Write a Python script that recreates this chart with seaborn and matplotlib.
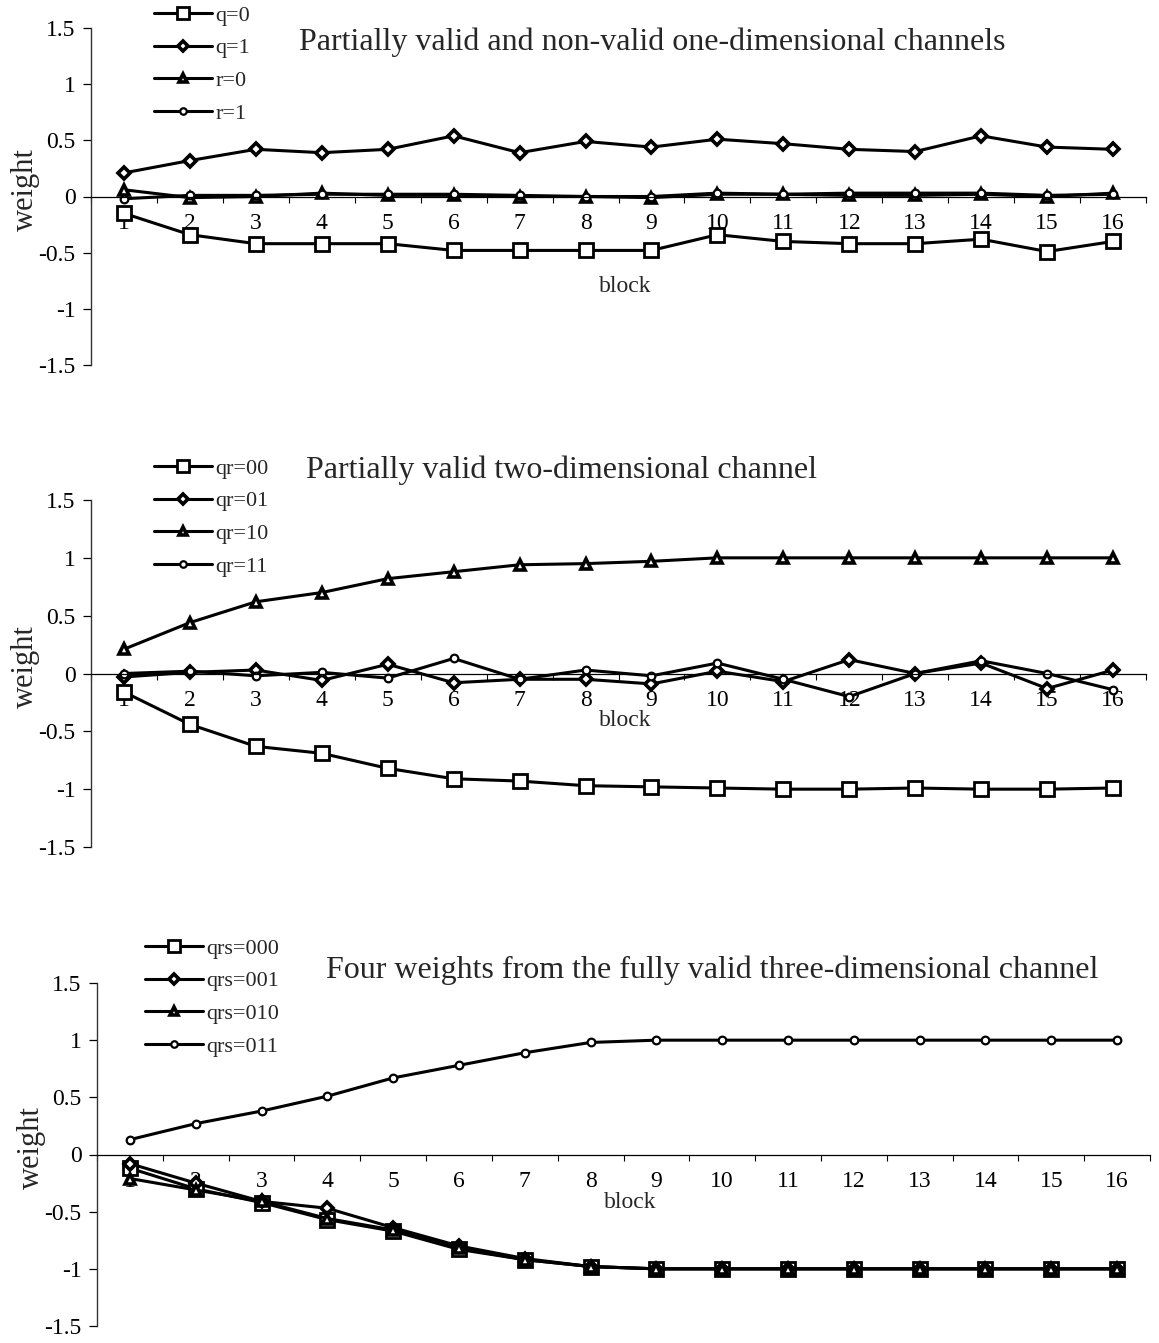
import matplotlib
matplotlib.use("Agg")
import matplotlib.pyplot as plt
import numpy as np
import pandas as pd
import seaborn as sns

# ---- data -------------------------------------------------------------
blocks = list(range(1, 17))
block_labels = [str(b) for b in blocks]

y_ticks = [-1.5, -1.0, -0.5, 0.0, 0.5, 1.0, 1.5]
y_tick_labels = ["-1.5", "-1", "-0.5", "0", "0.5", "1", "1.5"]

# one-dimensional channels
q0 = [-0.15, -0.34, -0.42, -0.42, -0.42, -0.48, -0.48, -0.48,
      -0.48, -0.34, -0.40, -0.42, -0.42, -0.38, -0.49, -0.40]
q1 = [0.21, 0.32, 0.42, 0.39, 0.42, 0.54, 0.39, 0.49,
      0.44, 0.51, 0.47, 0.42, 0.40, 0.54, 0.44, 0.42]
r0 = [0.06, -0.01, 0.00, 0.03, 0.01, 0.01, 0.00, 0.00,
      -0.01, 0.02, 0.02, 0.01, 0.01, 0.02, 0.00, 0.03]
r1 = [-0.02, 0.01, 0.01, 0.02, 0.02, 0.02, 0.01, 0.00,
      0.00, 0.03, 0.02, 0.03, 0.03, 0.03, 0.01, 0.02]

# two-dimensional channel
qr00 = [-0.16, -0.44, -0.63, -0.69, -0.82, -0.91, -0.93, -0.97,
        -0.98, -0.99, -1.00, -1.00, -0.99, -1.00, -1.00, -0.99]
qr01 = [-0.03, 0.01, 0.03, -0.06, 0.08, -0.08, -0.05, -0.05,
        -0.09, 0.02, -0.07, 0.12, 0.00, 0.09, -0.13, 0.03]
qr10 = [0.21, 0.44, 0.62, 0.70, 0.82, 0.88, 0.94, 0.95,
        0.97, 1.00, 1.00, 1.00, 1.00, 1.00, 1.00, 1.00]
qr11 = [0.00, 0.02, -0.02, 0.01, -0.04, 0.13, -0.05, 0.03,
        -0.02, 0.09, -0.05, -0.20, 0.00, 0.11, 0.00, -0.14]

# three-dimensional channel
qrs000 = [-0.12, -0.30, -0.42, -0.57, -0.67, -0.83, -0.92, -0.98,
          -1.00, -1.00, -1.00, -1.00, -1.00, -1.00, -1.00, -1.00]
qrs001 = [-0.08, -0.25, -0.41, -0.47, -0.64, -0.80, -0.91, -0.98,
          -1.00, -1.00, -1.00, -1.00, -1.00, -1.00, -1.00, -1.00]
qrs010 = [-0.21, -0.31, -0.41, -0.56, -0.66, -0.82, -0.92, -0.98,
          -1.00, -1.00, -1.00, -1.00, -1.00, -1.00, -1.00, -1.00]
qrs011 = [0.13, 0.27, 0.38, 0.51, 0.67, 0.78, 0.89, 0.98,
          1.00, 1.00, 1.00, 1.00, 1.00, 1.00, 1.00, 1.00]

panels = [
    dict(title="Partially valid and non-valid one-dimensional channels",
         labels=["q=0", "q=1", "r=0", "r=1"], series=[q0, q1, r0, r1]),
    dict(title="Partially valid two-dimensional channel",
         labels=["qr=00", "qr=01", "qr=10", "qr=11"], series=[qr00, qr01, qr10, qr11]),
    dict(title="Four weights from the fully valid three-dimensional channel",
         labels=["qrs=000", "qrs=001", "qrs=010", "qrs=011"],
         series=[qrs000, qrs001, qrs010, qrs011]),
]

# ---- styling ----------------------------------------------------------
sns.set_theme(style="white")
plt.rcParams["font.family"] = ["Liberation Serif", "DejaVu Serif"]

marker_styles = [
    dict(marker="s", markersize=10.5, markerfacecolor="white", markeredgewidth=2.0),
    dict(marker="D", markersize=6, markerfacecolor="white", markeredgewidth=2.6),
    dict(marker="^", markersize=7, markerfacecolor="white", markeredgewidth=2.6),
    dict(marker="o", markersize=5.5, markerfacecolor="white", markeredgewidth=1.6),
]

fig = plt.figure(figsize=(11.59, 13.43), dpi=100)
W, H = 1159.0, 1343.0

# axes rectangles in pixels: (left, top, right, bottom)
axes_px = [(91, 28, 1146, 365), (91, 500, 1146, 847), (97, 983, 1150, 1326)]
title_px = [(652, 42), (561, 470), (712, 970)]
legend_px = [(154, 5), (154, 458), (145, 938)]
block_label_y = [-0.80, -0.41, -0.42]

for i, panel in enumerate(panels):
    l, t, r, b = axes_px[i]
    ax = fig.add_axes([l / W, 1 - b / H, (r - l) / W, (b - t) / H])

    frame = pd.DataFrame({"block": blocks})
    for lab, vals, st in zip(panel["labels"], panel["series"], marker_styles):
        frame[lab] = vals
        sns.lineplot(data=frame, x="block", y=lab, ax=ax, color="black",
                     linewidth=2.2, markeredgecolor="black", label=lab,
                     clip_on=False, **st)

    ax.set_xlim(0.5, 16.5)
    ax.set_ylim(-1.5, 1.5)

    for side in ("top", "right"):
        ax.spines[side].set_visible(False)
    ax.spines["bottom"].set_position(("data", 0))
    ax.spines["bottom"].set_linewidth(0.9)
    ax.spines["bottom"].set_color("black")
    ax.spines["left"].set_linewidth(1.0)
    ax.spines["left"].set_color("#333333")

    ax.set_xticks(blocks)
    ax.set_xticklabels(block_labels, fontsize=17)
    ax.set_xticks(np.arange(0.5, 17, 1.0), minor=True)
    ax.tick_params(axis="x", which="major", length=0, pad=12, colors="black")
    ax.tick_params(axis="x", which="minor", length=4, width=0.8,
                   direction="out", bottom=True, color="black")

    ax.set_yticks(y_ticks)
    ax.set_yticklabels(y_tick_labels, fontsize=17)
    ax.tick_params(axis="y", length=6, width=0.9, direction="out", left=True,
                   pad=5, colors="black")

    ax.set_xlabel("")
    ax.set_ylabel("weight", fontsize=22, va="center")
    ax.yaxis.set_label_coords(-0.062, 0.52)

    ax.text(8.6, block_label_y[i], "block", ha="center", va="center", fontsize=17)

    tx, ty = title_px[i]
    fig.text(tx / W, 1 - ty / H, panel["title"], ha="center", va="center",
             fontsize=23)

    lx, ly = legend_px[i]
    ax.legend(loc="upper left", bbox_to_anchor=(lx / W, 1 - ly / H),
              bbox_transform=fig.transFigure, frameon=False, fontsize=16,
              borderpad=0, borderaxespad=0, handlelength=2.6,
              handletextpad=0.15, labelspacing=0.55, markerscale=0.85)
    ax.grid(False)

fig.savefig("out.png", dpi=100, facecolor="white")
